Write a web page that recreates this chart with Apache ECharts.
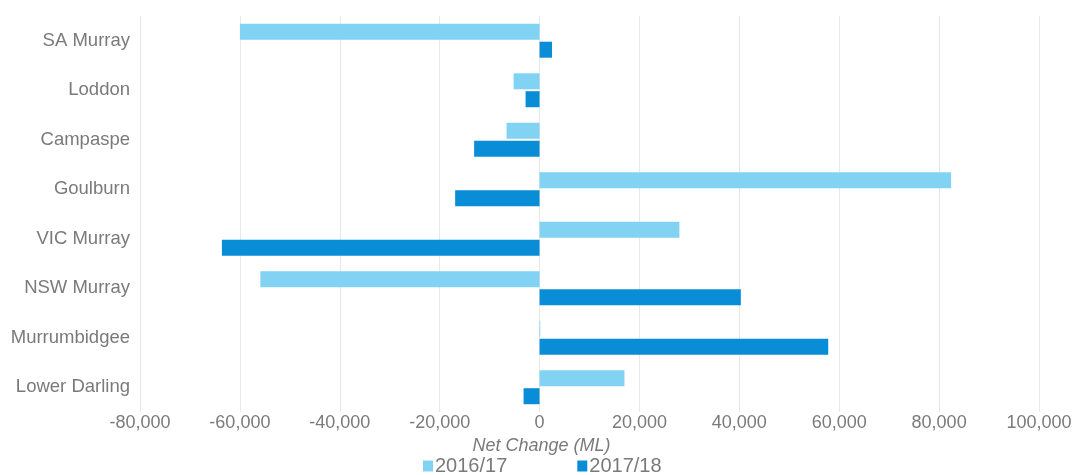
<!DOCTYPE html>
<html>
<head>
<meta charset="utf-8">
<title>Net Change (ML)</title>
<script src="https://cdn.jsdelivr.net/npm/echarts@6/dist/echarts.min.js"></script>
<style>
  html, body { margin: 0; padding: 0; background: #fff; }
  #chart { width: 1075px; height: 475px; }
</style>
</head>
<body>
<div id="chart"></div>
<script>
// categories top to bottom
var regions = ['SA Murray', 'Loddon', 'Campaspe', 'Goulburn', 'VIC Murray', 'NSW Murray', 'Murrumbidgee', 'Lower Darling'];
var seriesNames = ['2016/17', '2017/18'];
// net change in ML
var change1617 = [-60000, -5200, -6600, 82400, 28000, -55900, 150, 17000];
var change1718 = [2500, -2800, -13100, -16900, -63600, 40300, 57800, -3200];
var xTicks = [-80000, -60000, -40000, -20000, 0, 20000, 40000, 60000, 80000, 100000];

(function () {
    var mychart = echarts.init(document.getElementById('chart'));
    var textColor = '#7a7a7a';
    var font = 'Helvetica, "Liberation Sans", Arial, sans-serif';

    var option = {
        animation: false,
        textStyle: { fontFamily: font },
        grid: { left: 140, right: 36, top: 16, bottom: 63, containLabel: false },
        legend: {
            data: seriesNames,
            top: 451,
            left: 418,
            icon: 'rect',
            itemWidth: 10,
            itemHeight: 11,
            itemGap: 70,
            textStyle: { color: textColor, fontSize: 20, fontFamily: font, padding: [0, 0, 0, -3] }
        },
        xAxis: {
            type: 'value',
            min: xTicks[0],
            max: xTicks[xTicks.length - 1],
            interval: 20000,
            name: 'Net Change (ML)',
            nameLocation: 'middle',
            nameGap: 19,
            // title sits centred under the zero line rather than the axis middle
            nameTextStyle: { color: textColor, fontSize: 18, fontStyle: 'italic', fontFamily: font, padding: [0, 96, 0, 0] },
            axisLine: { show: false },
            axisTick: { show: false },
            axisLabel: {
                color: textColor,
                fontSize: 18,
                margin: 2,
                formatter: function (v) { return v.toLocaleString('en-US'); }
            },
            splitLine: { show: true, lineStyle: { color: '#e8e8e8', width: 1 } }
        },
        yAxis: {
            type: 'category',
            data: regions,
            inverse: true,
            axisLine: { show: false },
            axisTick: { show: false },
            axisLabel: { color: textColor, fontSize: 18.5, margin: 10 }
        },
        series: [
            {
                name: seriesNames[0],
                type: 'bar',
                data: change1617,
                barWidth: 16,
                barGap: '12%',
                itemStyle: { color: '#82d3f3' }
            },
            {
                name: seriesNames[1],
                type: 'bar',
                data: change1718,
                barWidth: 16,
                barGap: '12%',
                itemStyle: { color: '#098dd6' }
            }
        ]
    };
    mychart.setOption(option);
})();
</script>
</body>
</html>
